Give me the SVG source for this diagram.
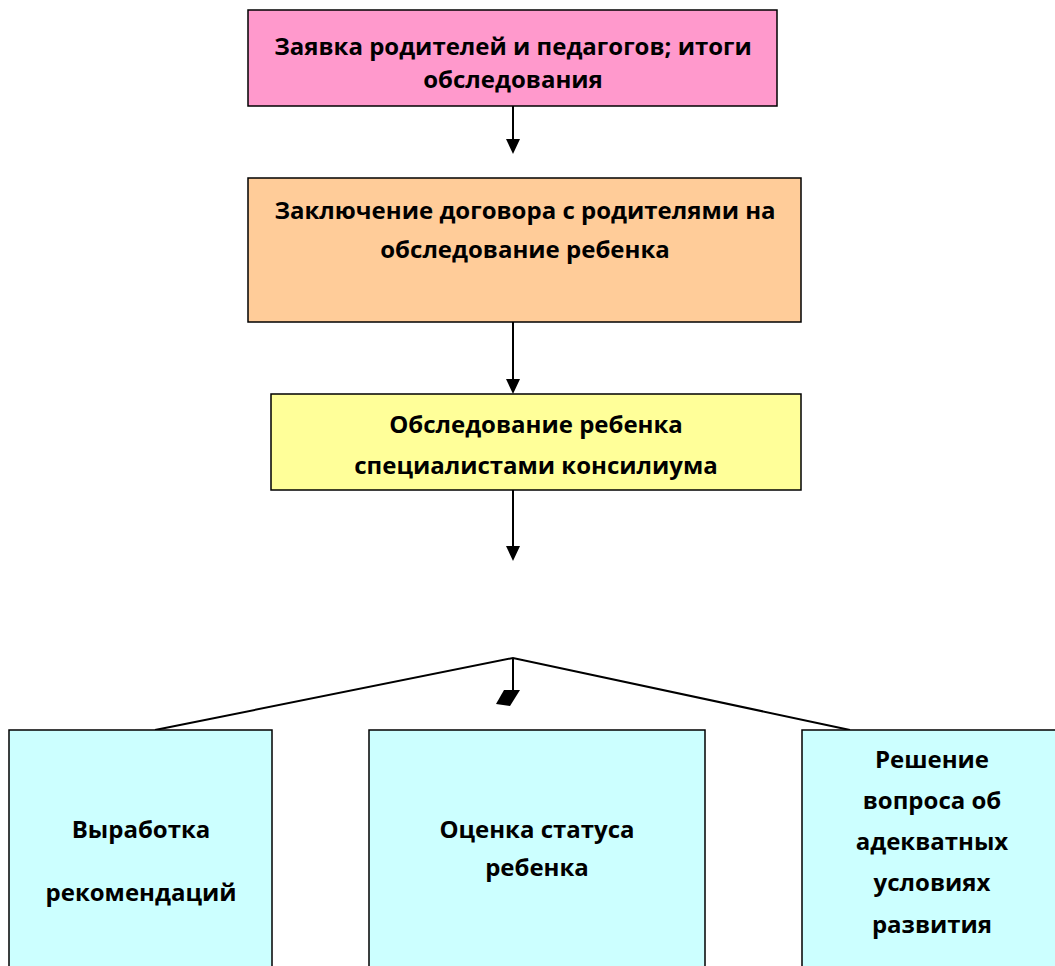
<svg xmlns="http://www.w3.org/2000/svg" width="1055" height="966" viewBox="0 0 1055 966">
<style>
.box{stroke:#000;stroke-width:1.5}
.t{font-family:"Open Sans","Liberation Sans",sans-serif;font-weight:bold;font-size:24px;text-anchor:middle;fill:#000}
.c{stroke:#000;stroke-width:2;fill:none}
.h{fill:#000}
</style>
<rect width="1055" height="966" fill="#fff"/>
<g id="connectors">
<line class="c" x1="513" y1="106" x2="513" y2="140"/>
<path class="h" d="M506,139 L520,139 L513,154 Z"/>
<line class="c" x1="513" y1="322" x2="513" y2="380"/>
<path class="h" d="M506,379 L520,379 L513,394 Z"/>
<line class="c" x1="513" y1="490" x2="513" y2="547"/>
<path class="h" d="M506,546 L520,546 L513,561 Z"/>
<polyline class="c" points="155,730 513,658 850,730"/>
<line class="c" x1="513" y1="658" x2="513" y2="692"/>
<polygon class="h" points="504,690 520,690 510,706 496,704"/>
</g>
<g id="n1">
<rect class="box" x="248" y="10" width="529" height="96" fill="#FF99CC"/>
<text class="t" x="513" y="55">Заявка родителей и педагогов; итоги</text>
<text class="t" x="513" y="88">обследования</text>
</g>
<g id="n2">
<rect class="box" x="248" y="178" width="553" height="144" fill="#FFCC99"/>
<text class="t" x="525" y="219">Заключение договора с родителями на</text>
<text class="t" x="525" y="258">обследование ребенка</text>
</g>
<g id="n3">
<rect class="box" x="271" y="394" width="530" height="96" fill="#FFFF99"/>
<text class="t" x="536" y="433">Обследование ребенка</text>
<text class="t" x="536" y="474">специалистами консилиума</text>
</g>
<g id="n4">
<rect class="box" x="9" y="730" width="263" height="250" fill="#CCFFFF"/>
<text class="t" x="141" y="838">Выработка</text>
<text class="t" x="141" y="901">рекомендаций</text>
</g>
<g id="n5">
<rect class="box" x="369" y="730" width="336" height="250" fill="#CCFFFF"/>
<text class="t" x="537" y="838">Оценка статуса</text>
<text class="t" x="537" y="876">ребенка</text>
</g>
<g id="n6">
<rect class="box" x="802" y="730" width="270" height="250" fill="#CCFFFF"/>
<text class="t" x="932" y="768">Решение</text>
<text class="t" x="932" y="809">вопроса об</text>
<text class="t" x="932" y="850">адекватных</text>
<text class="t" x="932" y="891">условиях</text>
<text class="t" x="932" y="933">развития</text>
</g>
</svg>
